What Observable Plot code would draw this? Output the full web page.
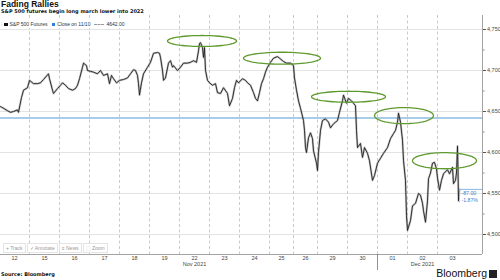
<!DOCTYPE html>
<html>
<head>
<meta charset="utf-8">
<script src="https://cdn.jsdelivr.net/npm/d3@7"></script>
<script src="https://cdn.jsdelivr.net/npm/@observablehq/plot@0.6"></script>
<style>
  html, body { margin: 0; padding: 0; background: #fff; }
  #wrap { position: relative; width: 500px; height: 280px; overflow: hidden; font-family: "Liberation Sans", Arial, sans-serif; }
  #title { position: absolute; left: 1px; top: 0px; font-size: 8.5px; font-weight: bold; line-height: 9px; color: #111; }
  #subtitle { position: absolute; left: 1px; top: 8px; font-family: "DejaVu Sans", sans-serif; font-size: 5px; font-weight: bold; line-height: 7px; color: #111; }
  #chart { position: absolute; left: 0; top: 15px; }
  #legend { position: absolute; left: 1px; top: 20px; height: 8px; font-size: 5px; line-height: 8px; color: #333; background: #fff; padding-right: 4px; white-space: nowrap; }
  #legend .sq { display: inline-block; width: 3.5px; height: 3.5px; vertical-align: -0.3px; margin-right: 2px; }
  #legend .dash { display: inline-block; width: 10px; border-top: 1px dashed #999; vertical-align: 1.5px; margin: 0 2px 0 4px; }
  #tools { position: absolute; left: 3px; top: 243px; font-size: 5px; line-height: 8px; color: #999; white-space: nowrap; }
  #tools span { display: inline-block; background: #fff; border: 0.5px solid #e4e4e4; padding: 0 2px; margin-right: 1px; }
  #source { position: absolute; left: 1px; top: 271px; font-family: "DejaVu Sans", sans-serif; font-size: 5px; font-weight: bold; line-height: 7px; color: #111; }
  #logo { position: absolute; right: 3px; top: 267px; font-size: 10.5px; line-height: 12px; color: #111; white-space: nowrap; }
  #logo .ic { display: inline-block; width: 8px; height: 8px; background: #222; vertical-align: -0.5px; margin-left: 2px; }
</style>
</head>
<body>
<div id="wrap">
  <div id="title">Fading Rallies</div>
  <div id="subtitle">S&amp;P 500 futures begin long march lower into 2022</div>
  <div id="chart"></div>
  <div id="legend"><span style="color:#aaa;margin-right:2px">⁝</span><span class="sq" style="background:#111"></span>S&amp;P 500 Futures&nbsp;&nbsp;&nbsp;<span class="sq" style="background:#2f7fe0"></span>Close on 11/10<span class="dash"></span>4642.00</div>
  <div id="tools"><span>+ Track</span><span>✓ Annotate</span><span>≡ News</span><span>⬚ Zoom</span></div>
  <div id="source">Source: Bloomberg</div>
  <div id="logo">Bloomberg<span class="ic"></span></div>
</div>
<script>
// Trading days shown on the axis (Nov 12 – Dec 3, 2021)
const days = ["12","15","16","17","18","19","22","23","24","25","26","29","30","01","02","03"];
// session length in trading-day units (Thanksgiving 25th and 26th are short sessions)
const dayLengths = [1,1,1,1,1,1,1,1,1,0.8,0.8,1,1,1,1,1];
const monthLabels = ["Nov 2021","Dec 2021"];
const monthDays = ["22","02"];
const yTicks = [4500,4550,4600,4650,4700,4750];
const yMinorTicks = [4525,4575,4625,4675,4725];

// S&P 500 futures: time in trading days since Nov 12 open, price
const time = [0.033,0.133,0.267,0.367,0.467,0.6,0.633,0.733,0.8,0.933,1.0,1.133,1.267,1.367,1.467,1.633,1.667,1.767,1.8,1.933,2.033,2.1,2.2,2.3,2.433,2.533,2.6,2.667,2.767,2.8,2.9,2.933,3.033,3.133,3.267,3.367,3.467,3.6,3.667,3.733,3.8,3.9,4.0,4.133,4.267,4.367,4.467,4.533,4.6,4.633,4.667,4.733,4.8,4.933,5.033,5.133,5.267,5.333,5.367,5.433,5.467,5.533,5.633,5.7,5.767,5.8,5.933,6.033,6.133,6.267,6.367,6.467,6.567,6.633,6.667,6.7,6.767,6.8,6.833,6.867,6.933,7.0,7.1,7.2,7.267,7.367,7.467,7.6,7.667,7.767,7.833,7.9,7.967,8.1,8.2,8.267,8.367,8.467,8.533,8.6,8.667,8.733,8.8,8.867,8.933,9.033,9.133,9.267,9.333,9.467,9.567,9.7,9.8,9.833,9.9,9.967,10.033,10.133,10.167,10.2,10.233,10.3,10.367,10.433,10.467,10.567,10.6,10.633,10.7,10.767,10.867,10.967,11.033,11.133,11.267,11.333,11.433,11.467,11.567,11.633,11.733,11.8,11.867,11.9,11.933,12.033,12.1,12.167,12.267,12.333,12.433,12.5,12.6,12.7,12.8,12.933,13.033,13.133,13.2,13.267,13.3,13.367,13.433,13.467,13.533,13.567,13.6,13.633,13.7,13.767,13.867,13.967,14.033,14.1,14.133,14.2,14.267,14.3,14.367,14.433,14.5,14.567,14.6,14.667,14.733,14.8,14.933,15.0,15.1,15.133,15.2,15.233,15.267,15.283,15.3,15.333];
const price = [4656,4654,4651,4649,4650,4652,4649,4667,4676,4679,4688,4684,4684,4685,4689,4696,4690,4676,4672,4678,4682,4685,4682,4678,4676,4678,4682,4690,4704,4709,4706,4700,4699,4698,4696,4700,4694,4696,4684,4694,4690,4685,4688,4689,4691,4696,4701,4700,4694,4684,4670,4685,4696,4704,4710,4721,4722,4721,4716,4700,4688,4691,4709,4712,4704,4706,4700,4704,4709,4709,4710,4712,4710,4724,4733,4734,4728,4716,4728,4700,4688,4685,4682,4684,4673,4672,4679,4672,4657,4666,4679,4688,4685,4690,4688,4685,4682,4673,4666,4663,4673,4684,4690,4698,4704,4710,4715,4717,4715,4711,4709,4709,4706,4691,4676,4663,4654,4639,4627,4606,4600,4618,4624,4617,4602,4587,4578,4600,4627,4639,4641,4637,4630,4635,4639,4649,4663,4670,4660,4666,4663,4660,4657,4627,4606,4611,4594,4606,4599,4590,4566,4572,4587,4593,4599,4606,4617,4623,4627,4637,4648,4637,4615,4590,4566,4523,4505,4509,4517,4535,4538,4550,4548,4538,4529,4515,4541,4568,4575,4587,4588,4580,4569,4554,4566,4574,4579,4574,4582,4562,4566,4575,4608,4580,4541,4555];

const closeOn1110 = 4642.00;
const changeLabel = ["-87.00", "-1.87%"];

// Green "fading rally" ellipses: centre (time, price) and half-extent (time, price)
const rallyTime = [6.75, 9.417, 11.633, 13.483, 14.833];
const rallyPrice = [4736, 4715, 4668, 4645, 4590];
const rallyHalfTime = [1.15, 1.283, 1.233, 0.983, 1.067];
const rallyHalfPrice = [6.7, 7.3, 6.7, 9.8, 9.8];

// ---- derived ----
let acc = 0;
const dayStart = dayLengths.map(l => { const s = acc; acc += l; return s; });
const dayCenter = dayLengths.map((l, i) => dayStart[i] + l / 2);
const series = time.map((t, i) => ({t, p: price[i]}));
const last = series[series.length - 1];

const xDomain = [1 / 30, 16.1];
const yDomain = [4475.6, 4767.1];

const ellipsePts = [];
rallyTime.forEach((ct, k) => {
  for (let j = 0; j <= 72; j++) {
    const a = (j / 72) * 2 * Math.PI;
    ellipsePts.push({k, t: ct + rallyHalfTime[k] * Math.cos(a), p: rallyPrice[k] + rallyHalfPrice[k] * Math.sin(a)});
  }
});

const monthRows = monthLabels.map((m, i) => ({m, t: dayCenter[days.indexOf(monthDays[i])]}));

const chart = Plot.plot({
  width: 500,
  height: 255,
  marginLeft: 0,
  marginRight: 18,
  marginTop: 0,
  marginBottom: 16,
  style: {fontFamily: "'Liberation Sans', Arial, sans-serif", background: "transparent", color: "#444"},
  x: {domain: xDomain, axis: null},
  y: {domain: yDomain, label: null},
  marks: [
    Plot.ruleY(yTicks, {stroke: "#dcdcdc", strokeWidth: 0.8}),
    Plot.ruleX(dayStart.slice(1), {stroke: "#b5b5b5", strokeWidth: 0.7, strokeDasharray: "3,2.5"}),
    Plot.ruleY([closeOn1110], {stroke: "#a9cce8", strokeWidth: 2}),
    Plot.line(series, {x: "t", y: "p", stroke: "#9a9a9a", strokeWidth: 2.2, strokeOpacity: 0.55}),
    Plot.line(series, {x: "t", y: "p", stroke: "#1e1e1e", strokeWidth: 0.9}),
    Plot.line(ellipsePts, {x: "t", y: "p", z: "k", stroke: "#5f9a2e", strokeWidth: 1.3}),
    Plot.ruleY([last.p], {x1: last.t, x2: xDomain[1], stroke: "#6aa3da", strokeWidth: 0.8}),
    Plot.ruleX([last.t], {y1: last.p, y2: last.p - 17, stroke: "#a9cce8", strokeWidth: 0.7}),
    Plot.text([changeLabel.join("\n")], {x: last.t, y: last.p, dx: 2, dy: 1.5, textAnchor: "start", lineAnchor: "top", lineHeight: 1.2, fontSize: 5.2, fill: "#3b7fcf"}),
    Plot.ruleY([yDomain[0]], {stroke: "#8c8c8c", strokeWidth: 0.8}),
    Plot.ruleX([xDomain[1]], {stroke: "#8c8c8c", strokeWidth: 0.8}),
    Plot.ruleX([dayStart[days.indexOf("01")]], {y1: yDomain[0], y2: yDomain[0] - 20, stroke: "#777", strokeWidth: 0.8}),
    Plot.axisY({anchor: "right", ticks: yTicks, tickSize: 3, tickPadding: 1.5, fontSize: 5.5, stroke: "#555", label: null}),
    Plot.axisY({anchor: "right", ticks: yMinorTicks, tickSize: 1.5, tickFormat: () => "", stroke: "#888", label: null}),
    Plot.text(days, {x: (d, i) => dayCenter[i], frameAnchor: "bottom", dy: 5.5, fontSize: 5.5, fill: "#444"}),
    Plot.text(monthRows, {x: "t", text: "m", frameAnchor: "bottom", dy: 11.5, fontSize: 5.5, fill: "#444"})
  ]
});
document.getElementById("chart").appendChild(chart);
</script>
</body>
</html>
